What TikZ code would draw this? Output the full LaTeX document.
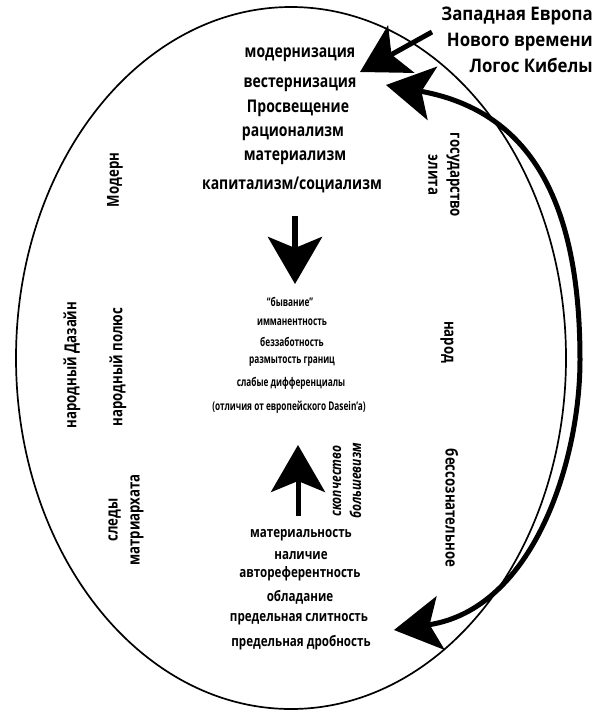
\documentclass[tikz,border=0pt]{standalone}
\usepackage{fontspec}
\setmainfont{Open Sans}
% narrow cuts of the same face for the labels
\newfontfamily\narrowface{Open Sans}[FakeStretch=0.8]
\newfontfamily\slimface{Open Sans}[FakeStretch=0.69]
\newfontfamily\headface{Open Sans}[FakeStretch=0.9]
\usetikzlibrary{arrows.meta}
\begin{document}
\begin{tikzpicture}[x=1pt,y=-1pt,
  lbl/.style={inner sep=0pt, align=center, font=\narrowface\bfseries\fontsize{#1}{#1}\selectfont},
  lbl/.default=16,
  small/.style={inner sep=0pt, align=center, font=\slimface\bfseries\fontsize{12}{12}\selectfont},
  sidelbl/.style={inner sep=0pt, align=center, font=\narrowface\bfseries\fontsize{16.5}{22}\selectfont},
  ring/.style={line width=1.7pt},
  bigtip/.tip={Stealth[length=47pt,width=54pt,inset=11pt]},
  bolt/.style={line width=5pt, -bigtip},
  swing/.style={line width=5pt, bigtip-bigtip}]
\useasboundingbox (0,0) rectangle (603,713);

% outer oval
\draw[ring] (291,358) ellipse [x radius=275pt, y radius=351pt];

% caption in the upper right corner
\node[inner sep=0pt, align=right, anchor=north east,
      font=\headface\bfseries\fontsize{18.7}{26}\selectfont] (west) at (593,7)
  {Западная Европа\\Нового времени\\Логос Кибелы};

% upper column
\node[lbl=17.5] (m1) at (300,55)  {модернизация};
\node[lbl=17.5] (m2) at (300,85)  {вестернизация};
\node[lbl=17.5] (m3) at (298,108) {Просвещение};
\node[lbl=17.5] (m4) at (293,134) {рационализм};
\node[lbl=17.5] (m5) at (295,158) {материализм};
\node[lbl=17.5] (m6) at (292,185) {капитализм/социализм};

% middle column
\node[small] (c1) at (290,302) {“бывание”};
\node[small] (c2) at (292,322) {имманентность};
\node[small] (c3) at (292,342) {беззаботность};
\node[small] (c4) at (292,362) {размытость границ};
\node[small] (c5) at (291,383) {слабые дифференциалы};
\node[small] (c6) at (289,407) {(отличия от европейского Dasein’a)};

% lower column
\node[lbl=14.5] (b1) at (301,535) {материальность};
\node[lbl=14.5] (b2) at (301,556) {наличие};
\node[lbl=14.5] (b3) at (300,574) {автореферентность};
\node[lbl=14.5] (b4) at (300,597) {обладание};
\node[lbl=14.5] (b5) at (299,619) {предельная слитность};
\node[lbl=14.5] (b6) at (301,643) {предельная дробность};

% labels along the left side
\node[sidelbl, rotate=90] (modern) at (115,180) {Модерн};
\node[sidelbl, rotate=90] (dasein) at (72,365)  {народный Дазайн};
\node[sidelbl, rotate=90] (pole)   at (118,367) {народный полюс};
\node[sidelbl, rotate=90] (trace)  at (126,520) {следы\\матриархата};

% labels along the right side
\node[sidelbl, rotate=-90] (state)  at (444,175) {государство\\элита};
\node[sidelbl, rotate=-90] (people) at (447,342) {народ};
\node[sidelbl, rotate=-90] (uncon)  at (452,508) {бессознательное};

% labels beside the rising arrow
\node[inner sep=0pt, align=center, rotate=90,
      font=\narrowface\bfseries\itshape\fontsize{15}{20}\selectfont] (sect) at (347,481)
  {скопчество\\большевизм};

% arrows
\coordinate (inA) at (432,32);
\coordinate (inB) at (360,72);
\draw[bolt] (inA) -- (inB);

\coordinate (dnA) at (295,216);
\coordinate (dnB) at (295,284);
\draw[bolt, line width=6pt] (dnA) -- (dnB);

\coordinate (upA) at (298,516);
\coordinate (upB) at (298,445);
\draw[bolt] (upA) -- (upB);

\coordinate (swA) at (386,85);
\coordinate (swM) at (580,360);
\coordinate (swB) at (394,630);
\draw[swing] (swA) .. controls (536,112) and (580,210) .. (swM)
                   .. controls (580,460) and (534,609) .. (swB);
\end{tikzpicture}
\end{document}
